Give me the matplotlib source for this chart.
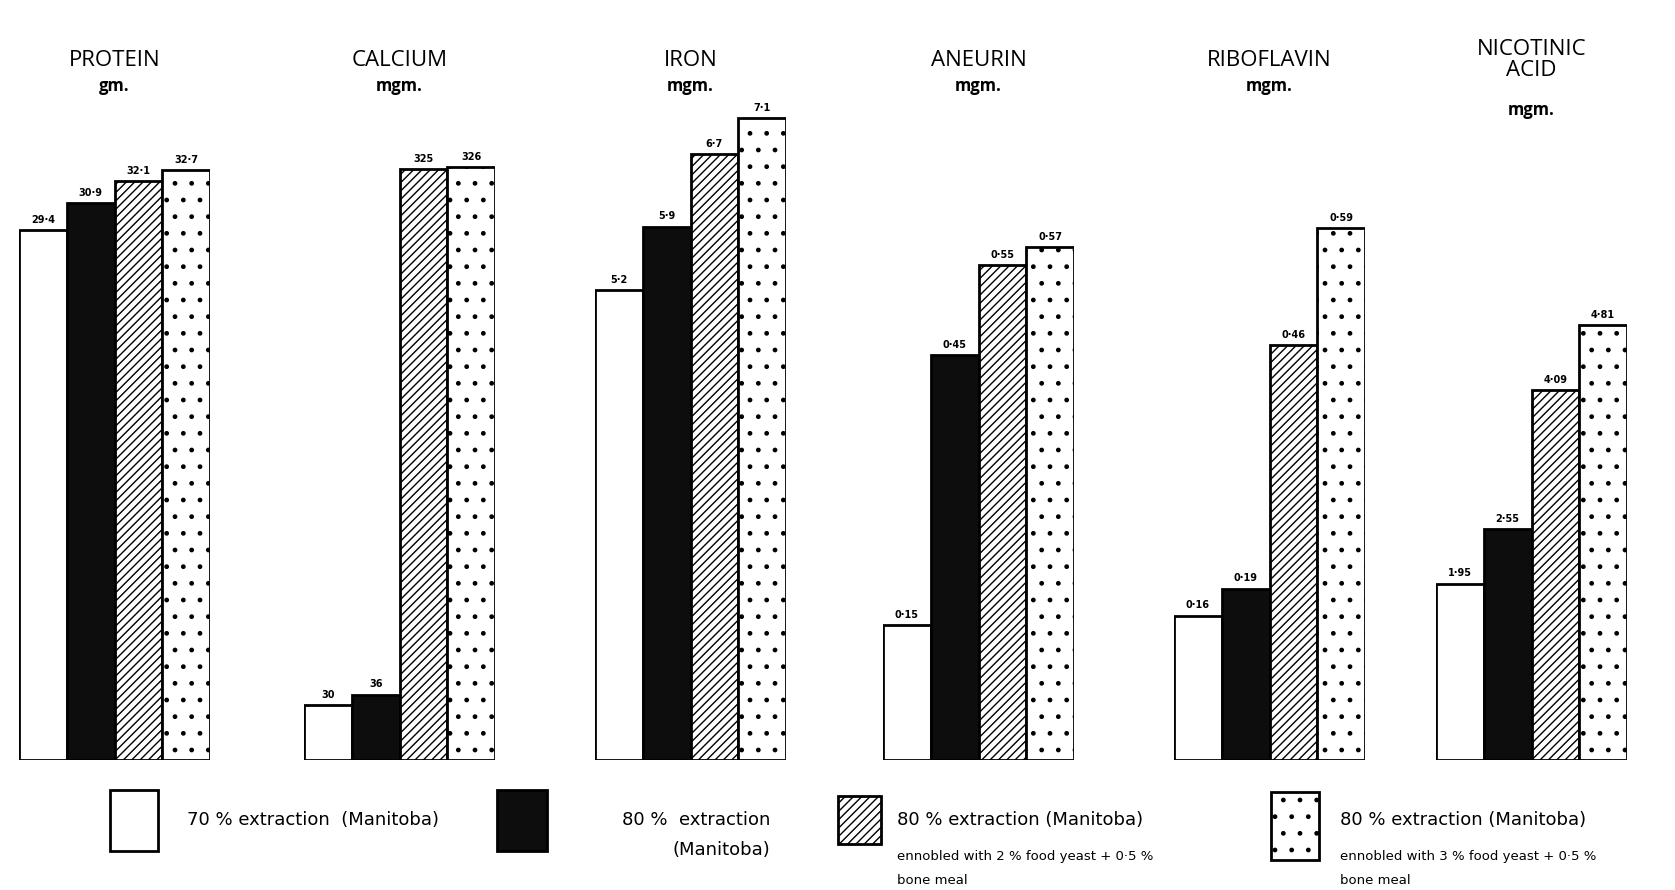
import numpy as np
import matplotlib.pyplot as plt
from matplotlib.patches import Rectangle

# Donnees
nutrients = ['PROTEIN', 'CALCIUM', 'IRON', 'ANEURIN', 'RIBOFLAVIN', 'NICOTINIC\nACID']
units = ['gm.', 'mgm.', 'mgm.', 'mgm.', 'mgm.', 'mgm.']
flour_70 = [29.4, 30, 5.2, 0.15, 0.16, 1.95]
flour_80 = [30.9, 36, 5.9, 0.45, 0.19, 2.55]
flour_80_yeast2 = [32.1, 325, 6.7, 0.55, 0.46, 4.09]
flour_80_yeast3 = [32.7, 326, 7.1, 0.57, 0.59, 4.81]
value_labels = [['29·4', '30·9', '32·1', '32·7'],
                ['30', '36', '325', '326'],
                ['5·2', '5·9', '6·7', '7·1'],
                ['0·15', '0·45', '0·55', '0·57'],
                ['0·16', '0·19', '0·46', '0·59'],
                ['1·95', '2·55', '4·09', '4·81']]
# echelle propre a chaque groupe (haut de l'axe)
ymax = [36.6, 363, 7.3, 0.734, 0.732, 7.3]

legend_main = ['70 % extraction  (Manitoba)',
               '80 %  extraction',
               '80 % extraction (Manitoba)',
               '80 % extraction (Manitoba)']
legend_sub = ['',
              '(Manitoba)',
              'ennobled with 2 % food yeast + 0·5 %\nbone meal',
              'ennobled with 3 % food yeast + 0·5 %\nbone meal']

W, H = 1675, 890
fig = plt.figure(figsize=(W / 100, H / 100), dpi=100)
plt.rcParams['hatch.linewidth'] = 1.0

styles = [dict(facecolor='white', hatch=None),
          dict(facecolor='#0d0d0d', hatch=None),
          dict(facecolor='white', hatch='////'),
          dict(facecolor='white', hatch='.')]

group_left = [19, 304, 595, 883, 1174, 1436]
group_width = 191
base_px = 760
top_px = 100

for g in range(len(nutrients)):
    ax = fig.add_axes([group_left[g] / W, 1 - base_px / H, group_width / W, (base_px - top_px) / H])
    vals = [flour_70[g], flour_80[g], flour_80_yeast2[g], flour_80_yeast3[g]]
    for i, v in enumerate(vals):
        ax.bar(i, v, width=1.0, edgecolor='black', linewidth=2, **styles[i])
        ax.text(i, v + ymax[g] * 0.008, value_labels[g][i], ha='center', va='bottom',
                fontsize=7, fontweight='bold')
    ax.set_xlim(-0.5, 3.5)
    ax.set_ylim(0, ymax[g])
    ax.axis('off')

    cx = (group_left[g] + group_width / 2) / W
    fig.text(cx, 1 - 60 / H, nutrients[g], ha='center', va='center', fontsize=16,
             family='Open Sans', linespacing=0.95)
    unit_y = 110 if '\n' in nutrients[g] else 86
    fig.text(cx, 1 - unit_y / H, units[g], ha='center', va='center', fontsize=12,
             family='Open Sans', fontweight='bold')

# Legende dessinee a la main, en pixels
leg = fig.add_axes([0, 0, 1, 1])
leg.set_xlim(0, W)
leg.set_ylim(H, 0)
leg.axis('off')
box_x = [110, 497, 838, 1271]
box_y = [790, 790, 796, 792]
box_w = [48, 50, 43, 48]
box_h = [61, 61, 48, 68]
text_x = [187, 622, 897, 1340]
for i in range(4):
    leg.add_patch(Rectangle((box_x[i], box_y[i]), box_w[i], box_h[i], edgecolor='black',
                            linewidth=2, **styles[i]))
    leg.text(text_x[i], 820, legend_main[i], ha='left', va='center', fontsize=13)
    if i == 1:
        leg.text(673, 850, legend_sub[i], ha='left', va='center', fontsize=13)
    elif legend_sub[i]:
        leg.text(text_x[i], 850, legend_sub[i], ha='left', va='top', fontsize=9.5,
                 linespacing=2.1)

plt.savefig('out.png', dpi=100)
